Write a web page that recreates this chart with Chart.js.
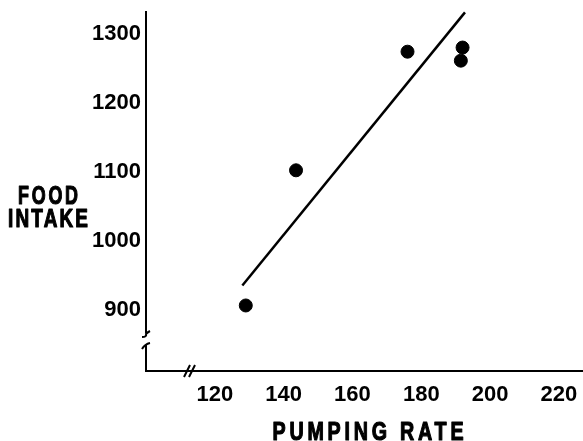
<!DOCTYPE html>
<html>
<head>
<meta charset="utf-8">
<script src="https://cdn.jsdelivr.net/npm/chart.js@4"></script>
<style>
  html, body { margin: 0; padding: 0; background: #fff; }
  #wrap { width: 583px; height: 441px; }
</style>
</head>
<body>
<div id="wrap"><canvas id="c" width="583" height="441"></canvas></div>
<script>
// Data
const pumpingRate = [129, 143.6, 176, 192, 191.5];
const foodIntake  = [903, 1099, 1271, 1277, 1258];
const fitLineX = [128, 192.7];
const fitLineY = [932, 1328];
const xTickValues = [120, 140, 160, 180, 200, 220];
const yTickValues = [900, 1000, 1100, 1200, 1300];
const xTitle = 'PUMPING RATE';
const yTitleLines = ['FOOD', 'INTAKE'];

const tickFont = { family: "'Liberation Sans', Arial, sans-serif", size: 22, weight: 'bold' };
const titleFont = "bold 26px 'Liberation Sans', Arial, sans-serif";

function drawFitted(ctx, text, cx, baseline, targetWidth, spacing) {
  ctx.save();
  ctx.font = titleFont;
  try { ctx.letterSpacing = spacing + 'px'; } catch (e) {}
  ctx.textAlign = 'left';
  ctx.textBaseline = 'alphabetic';
  const w = ctx.measureText(text).width - spacing;
  const sx = targetWidth / w;
  ctx.translate(cx - targetWidth / 2, baseline);
  ctx.scale(sx, 1);
  ctx.lineWidth = 1.2;
  ctx.strokeStyle = '#000';
  ctx.lineJoin = 'round';
  ctx.fillText(text, 0, 0);
  ctx.strokeText(text, 0, 0);
  ctx.restore();
}

const axesPlugin = {
  id: 'brokenAxes',
  afterDraw(chart) {
    const ctx = chart.ctx;
    const a = chart.chartArea;
    ctx.save();
    ctx.strokeStyle = '#000';
    ctx.lineWidth = 2;
    ctx.lineCap = 'butt';
    const L = a.left, B = a.bottom;
    // y axis upper segment
    ctx.beginPath();
    ctx.moveTo(L, a.top);
    ctx.lineTo(L, B - 38);
    ctx.stroke();
    // upper break hook
    ctx.beginPath();
    ctx.moveTo(L - 4, B - 34);
    ctx.quadraticCurveTo(L + 1, B - 34, L, B - 37);
    ctx.quadraticCurveTo(L + 2, B - 39, L + 4, B - 40);
    ctx.stroke();
    // lower break hook
    ctx.beginPath();
    ctx.moveTo(L - 4, B - 22);
    ctx.quadraticCurveTo(L - 1, B - 27, L + 4, B - 28);
    ctx.stroke();
    // y axis lower segment + x axis
    ctx.beginPath();
    ctx.moveTo(L, B - 26);
    ctx.lineTo(L, B);
    ctx.lineTo(a.right, B);
    ctx.stroke();
    // x axis break double slash
    ctx.beginPath();
    ctx.moveTo(L + 38, B + 6);
    ctx.lineTo(L + 44, B - 6);
    ctx.moveTo(L + 43, B + 6);
    ctx.lineTo(L + 49, B - 6);
    ctx.stroke();
    ctx.restore();

    // titles
    ctx.fillStyle = '#000';
    drawFitted(ctx, xTitle, 368, 440, 191, 5);
    drawFitted(ctx, yTitleLines[0], 48, 204, 60, 4);
    drawFitted(ctx, yTitleLines[1], 48, 227, 80, 3);
  }
};

new Chart(document.getElementById('c'), {
  type: 'scatter',
  data: {
    datasets: [
      {
        label: 'Observed',
        data: pumpingRate.map((x, i) => ({ x, y: foodIntake[i] })),
        backgroundColor: '#000',
        borderColor: '#000',
        pointRadius: 6.5,
        pointHoverRadius: 6.5,
        showLine: false
      },
      {
        label: 'Fit',
        data: fitLineX.map((x, i) => ({ x, y: fitLineY[i] })),
        showLine: true,
        borderColor: '#000',
        borderWidth: 2.5,
        pointRadius: 0,
        fill: false
      }
    ]
  },
  options: {
    responsive: false,
    animation: false,
    events: [],
    layout: { autoPadding: false, padding: { top: 11, left: 0, right: 0, bottom: 0 } },
    plugins: { legend: { display: false }, tooltip: { enabled: false }, title: { display: false } },
    scales: {
      x: {
        type: 'linear',
        min: 100,
        max: 227,
        afterBuildTicks: s => { s.ticks = xTickValues.map(v => ({ value: v })); },
        afterFit: s => { s.height = 70; s.paddingLeft = 0; s.paddingRight = 0; },
        grid: { display: false, drawTicks: false },
        border: { display: false },
        ticks: { color: '#000', font: tickFont, padding: 11, maxRotation: 0, autoSkip: false,
                 callback: v => String(v) }
      },
      y: {
        type: 'linear',
        min: 808,
        max: 1330,
        afterBuildTicks: s => { s.ticks = yTickValues.map(v => ({ value: v })); },
        afterFit: s => { s.width = 146; s.paddingTop = 0; s.paddingBottom = 0; },
        grid: { display: false, drawTicks: false },
        border: { display: false },
        ticks: { color: '#000', font: tickFont, padding: 5, labelOffset: 2.5, autoSkip: false,
                 callback: v => String(v) }
      }
    }
  },
  plugins: [axesPlugin]
});
</script>
</body>
</html>
